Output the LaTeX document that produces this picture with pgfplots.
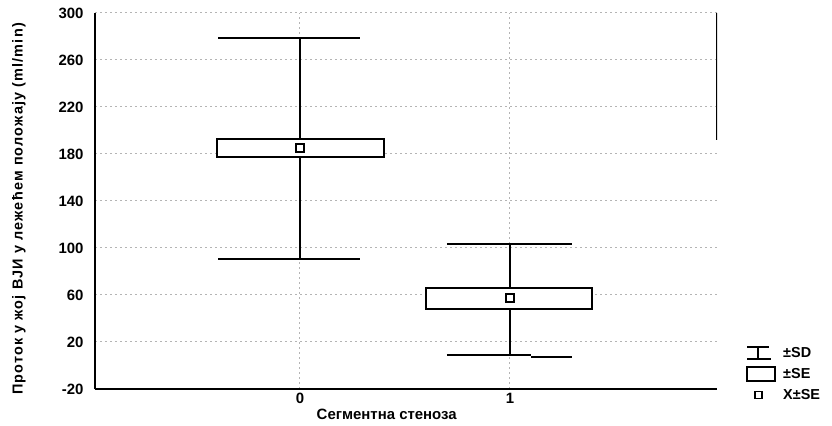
\documentclass[border=0pt]{standalone}
\usepackage{fontspec}
\setmainfont{Liberation Sans}
\usepackage{pgfplots}
\pgfplotsset{compat=1.18}
\definecolor{gridgray}{RGB}{180,180,180}
\begin{document}
\begin{tikzpicture}
\useasboundingbox (-95bp,-37bp) rectangle (737bp,389bp);
\begin{axis}[
  scale only axis, width=622bp, height=376bp,
  xmin=-0.976, xmax=1.986, ymin=-20, ymax=300,
  xtick={0,1}, ytick={-20,20,...,300},
  axis x line*=bottom, axis y line*=left,
  axis line style={line width=2bp, -},
  major tick length=0.1pt,
  grid=major,
  major grid style={draw=gridgray, line width=1bp, dash pattern=on 2bp off 3bp},
  tick label style={font=\fontsize{15}{17}\selectfont\bfseries},
  /pgf/number format/assume math mode=true,
  yticklabel style={xshift=-8bp},
  xticklabel style={yshift=-1bp},
  xlabel={Сегментна стеноза},
  ylabel={Проток у жој ВЈИ  у лежећем положају (ml/min)},
  every axis x label/.style={at={(axis description cs:0.469,0)}, yshift=-25bp, anchor=center, font=\fontsize{15}{17}\selectfont\bfseries},
  every axis y label/.style={at={(axis description cs:0,0.5)}, xshift=-76bp, yshift=-8bp, rotate=90, anchor=center, font=\fontsize{14.5}{17}\selectfont\bfseries\addfontfeatures{LetterSpace=8}},
  legend style={at={(rel axis cs:1,0)}, anchor=south west, xshift=26bp, yshift=-16bp, draw=none, fill=none, font=\fontsize{14.5}{17}\selectfont\bfseries, row sep=5bp, cells={anchor=west}},
  every axis plot/.append style={forget plot},
]
% group 0: whiskers (mean +- SD)
\addplot[black, line width=2bp] coordinates {(0,90.6) (0,278.7)};
\addplot[black, line width=2bp] coordinates {(-0.39,278.7) (0.286,278.7)};
\addplot[black, line width=2bp] coordinates {(-0.39,90.6) (0.286,90.6)};
% group 0: box (mean +- SE)
\addplot[black, line width=2bp, fill=white] coordinates {(-0.397,177.7) (0.40,177.7) (0.40,192.5) (-0.397,192.5)} -- cycle;
% group 1: whiskers
\addplot[black, line width=2bp] coordinates {(1,8.9) (1,103.4)};
\addplot[black, line width=2bp] coordinates {(0.70,103.4) (1.295,103.4)};
\addplot[black, line width=2bp] coordinates {(0.70,8.9) (1.10,8.9)};
\addplot[black, line width=2bp] coordinates {(1.10,7.5) (1.295,7.5)};
% group 1: box
\addplot[black, line width=2bp, fill=white] coordinates {(0.60,48.1) (1.39,48.1) (1.39,66.2) (0.60,66.2)} -- cycle;
% means
\addplot[only marks, mark=square, mark size=4bp, mark options={line width=1.6bp, draw=black, fill=white}] coordinates {(0,185) (1,57.5)};
\draw[line width=2bp] (rel axis cs:1,1) -- (rel axis cs:1,0.662);
\addlegendimage{legend image code/.code={\draw[line width=2bp] (0bp,6bp) -- (22bp,6bp) (11bp,6bp) -- (11bp,-6bp) (0bp,-6bp) -- (24bp,-6bp); \path[draw=none] (0bp,0bp) -- (34bp,0bp);}}
\addlegendentry{±SD}
\addlegendimage{legend image code/.code={\draw[line width=2bp] (0bp,-7bp) rectangle (28bp,7bp); \path[draw=none] (0bp,0bp) -- (34bp,0bp);}}
\addlegendentry{±SE}
\addlegendimage{legend image code/.code={\draw[line width=1.6bp] (8bp,-3.5bp) rectangle (15bp,3.5bp); \path[draw=none] (0bp,0bp) -- (34bp,0bp);}}
\addlegendentry{X±SE}
\end{axis}
\end{tikzpicture}
\end{document}
